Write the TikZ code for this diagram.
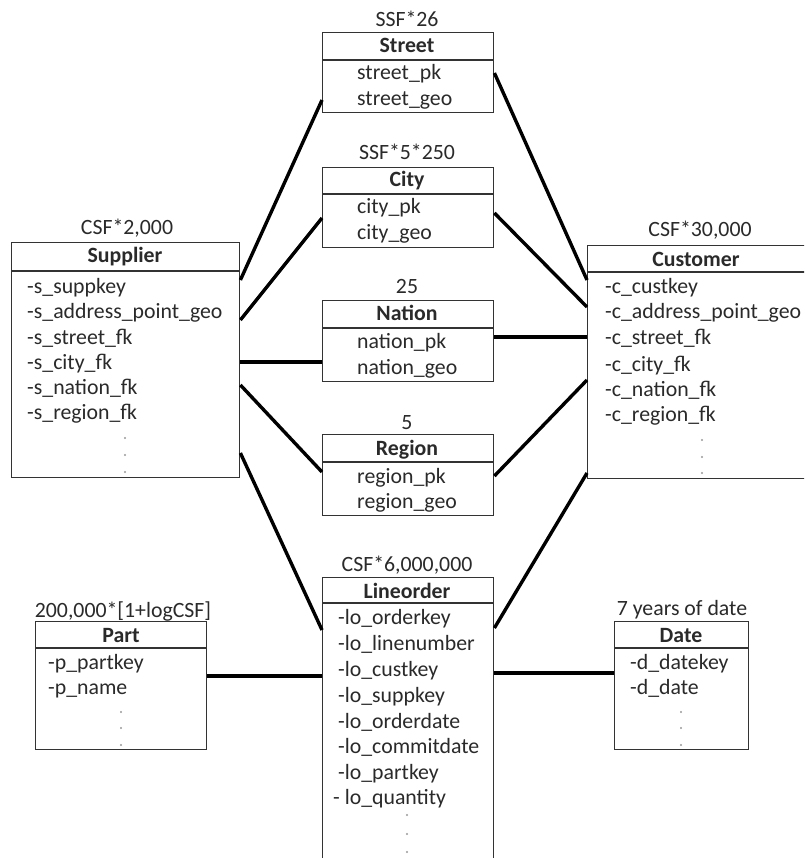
\documentclass[tikz,border=0pt]{standalone}
\usepackage{fontspec}
\setmainfont{Carlito}
\usetikzlibrary{calc}
\definecolor{txt}{HTML}{2A2A2A}
\definecolor{edge}{HTML}{333333}
\tikzset{
  box/.style={draw=edge, line width=1.4pt, rectangle, inner sep=0pt, anchor=north west},
  sep/.style={draw=edge, line width=1.4pt},
  row/.style={anchor=base west, inner sep=0pt, text=txt, font=\fontsize{21.8}{25}\selectfont},
  head/.style={anchor=base, inner sep=0pt, text=txt, font=\fontsize{21.8}{25}\selectfont\bfseries},
  lab/.style={anchor=base, inner sep=0pt, text=txt, font=\fontsize{21.8}{25}\selectfont},
  link/.style={draw=black, line width=3.4pt},
  dotm/.style={fill=gray!80, draw=none, circle, minimum size=2.4pt, inner sep=0pt}
}
\begin{document}
\begin{tikzpicture}[x=1pt,y=-1pt]
\useasboundingbox (0,0) rectangle (804,858);
\clip (0,0) rectangle (804,858);
\fill[white] (0,0) rectangle (804,858);

% ---------- boxes ----------
\node[box, minimum width=228, minimum height=235] (sup) at (11,242) {};
\node[box, minimum width=171, minimum height=80] (street) at (322,32) {};
\node[box, minimum width=171, minimum height=80] (city) at (322,167) {};
\node[box, minimum width=171, minimum height=81] (nation) at (322,300) {};
\node[box, minimum width=171, minimum height=81] (region) at (322,434) {};
\node[box, minimum width=220, minimum height=233] (cust) at (587,245) {};
\node[box, minimum width=171, minimum height=300] (lo) at (322,577) {};
\node[box, minimum width=171, minimum height=128] (part) at (35,621) {};
\node[box, minimum width=134, minimum height=128] (date) at (614,621) {};

% header separators
\draw[sep] ($(sup.north west)+(0,29)$) -- ($(sup.north east)+(0,29)$);
\draw[sep] ($(street.north west)+(0,28)$) -- ($(street.north east)+(0,28)$);
\draw[sep] ($(city.north west)+(0,27)$) -- ($(city.north east)+(0,27)$);
\draw[sep] ($(nation.north west)+(0,28)$) -- ($(nation.north east)+(0,28)$);
\draw[sep] ($(region.north west)+(0,28)$) -- ($(region.north east)+(0,28)$);
\draw[sep] ($(cust.north west)+(0,27)$) -- ($(cust.north east)+(0,27)$);
\draw[sep] ($(lo.north west)+(0,26)$) -- ($(lo.north east)+(0,26)$);
\draw[sep] ($(part.north west)+(0,27)$) -- ($(part.north east)+(0,27)$);
\draw[sep] ($(date.north west)+(0,27)$) -- ($(date.north east)+(0,27)$);

% ---------- labels above ----------
\node[lab] (lsup) at (127,235) {CSF*2,000};
\node[lab] (lstreet) at (407,27) {SSF*26};
\node[lab] (lcity) at (407,160) {SSF*5*250};
\node[lab] (lnation) at (407,294) {25};
\node[lab] (lregion) at (407,429) {5};
\node[lab] (lcust) at (700,237) {CSF*30,000};
\node[lab] (llo) at (407,571) {CSF*6,000,000};
\node[lab] (lpart) at (123,617) {200,000*[1+logCSF]};
\node[lab] (ldate) at (682,615) {7 years of date};

% ---------- headers ----------
\node[head] (hsup) at (125,263) {Supplier};
\node[head] (hstreet) at (407,53) {Street};
\node[head] (hcity) at (407,187) {City};
\node[head] (hnation) at (407,320) {Nation};
\node[head] (hregion) at (407,455) {Region};
\node[head] (hcust) at (696,266) {Customer};
\node[head] (hlo) at (407,598) {Lineorder};
\node[head] (hpart) at (121,642) {Part};
\node[head] (hdate) at (681,642) {Date};

% ---------- rows ----------
\node[row] (s1) at (27,294) {-s\_suppkey};
\node[row] (s2) at (27,318) {-s\_address\_point\_geo};
\node[row] (s3) at (27,344) {-s\_street\_fk};
\node[row] (s4) at (27,369) {-s\_city\_fk};
\node[row] (s5) at (27,394) {-s\_nation\_fk};
\node[row] (s6) at (27,419) {-s\_region\_fk};

\node[row] (t1) at (357,80) {street\_pk};
\node[row] (t2) at (357,106) {street\_geo};
\node[row] (ci1) at (357,214) {city\_pk};
\node[row] (ci2) at (357,240) {city\_geo};
\node[row] (n1) at (357,348) {nation\_pk};
\node[row] (n2) at (357,374) {nation\_geo};
\node[row] (r1) at (357,483) {region\_pk};
\node[row] (r2) at (357,508) {region\_geo};

\node[row] (c1) at (605,294) {-c\_custkey};
\node[row] (c2) at (605,318) {-c\_address\_point\_geo};
\node[row] (c3) at (605,344) {-c\_street\_fk};
\node[row] (c4) at (605,371) {-c\_city\_fk};
\node[row] (c5) at (605,396) {-c\_nation\_fk};
\node[row] (c6) at (605,421) {-c\_region\_fk};

\node[row] (o1) at (338,624) {-lo\_orderkey};
\node[row] (o2) at (338,650) {-lo\_linenumber};
\node[row] (o3) at (338,676) {-lo\_custkey};
\node[row] (o4) at (338,702) {-lo\_suppkey};
\node[row] (o5) at (338,728) {-lo\_orderdate};
\node[row] (o6) at (338,753) {-lo\_commitdate};
\node[row] (o7) at (338,779) {-lo\_partkey};
\node[row] (o8) at (333,804) {- lo\_quantity};

\node[row] (p1) at (48,669) {-p\_partkey};
\node[row] (p2) at (48,694) {-p\_name};
\node[row] (d1) at (630,669) {-d\_datekey};
\node[row] (d2) at (630,694) {-d\_date};

% ---------- dots ----------
\foreach \yy [count=\i] in {438,455,472} \node[dotm] (sd\i) at (125,\yy) {};
\foreach \yy [count=\i] in {440,457,473} \node[dotm] (cd\i) at (702,\yy) {};
\foreach \yy [count=\i] in {815,834,852} \node[dotm] (od\i) at (407,\yy) {};
\foreach \yy [count=\i] in {712,728,745} \node[dotm] (pd\i) at (121,\yy) {};
\foreach \yy [count=\i] in {712,728,745} \node[dotm] (dd\i) at (681,\yy) {};

% ---------- connectors ----------
\draw[link] ($(sup.north east)+(0,38)$) -- ($(street.north west)+(0,68)$);
\draw[link] ($(sup.north east)+(0,78)$) -- ($(city.north west)+(0,51)$);
\draw[link] ($(sup.north east)+(0,120)$) -- ($(nation.north west)+(0,62)$);
\draw[link] ($(sup.north east)+(0,143)$) -- ($(region.north west)+(0,38)$);
\draw[link] ($(sup.north east)+(0,211)$) -- ($(lo.north west)+(0,53)$);

\draw[link] ($(street.north east)+(0,41)$) -- ($(cust.north west)+(0,35)$);
\draw[link] ($(city.north east)+(0,46)$) -- ($(cust.north west)+(0,62)$);
\draw[link] ($(nation.north east)+(0,37)$) -- ($(cust.north west)+(0,92)$);
\draw[link] ($(region.north east)+(0,42)$) -- ($(cust.north west)+(0,135)$);
\draw[link] ($(lo.north east)+(0,51)$) -- ($(cust.north west)+(0,228)$);

\draw[link] ($(part.north east)+(0,55)$) -- ($(lo.north west)+(0,99)$);
\draw[link] ($(lo.north east)+(0,96)$) -- ($(date.north west)+(0,52)$);
\end{tikzpicture}
\end{document}
